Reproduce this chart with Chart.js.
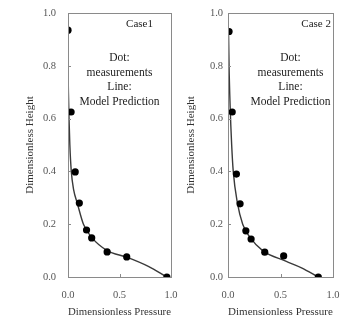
<!DOCTYPE html>
<html><head><meta charset="utf-8">
<script src="https://cdn.jsdelivr.net/npm/chart.js@4.4.0/dist/chart.umd.min.js"></script>
<style>
html,body{margin:0;padding:0;background:#fff;}
#w{position:relative;width:343px;height:320px;overflow:hidden;}
.c{position:absolute;top:0;height:320px;}
</style></head><body>
<div id="w">
<div class="c" id="d1" style="left:0;width:188px"><canvas id="c1"></canvas></div>
<div class="c" id="d2" style="left:172px;width:171px"><canvas id="c2"></canvas></div>
</div>
<script>
// Case 1 measurements
const case1MeasX = [0.0, 0.03, 0.07, 0.11, 0.18, 0.23, 0.38, 0.57, 0.96];
const case1MeasY = [0.935, 0.625, 0.398, 0.28, 0.178, 0.148, 0.095, 0.076, 0.0];
// Case 1 model prediction
const case1ModelX = [0.0, 0.004, 0.01, 0.018, 0.032, 0.055, 0.09, 0.15, 0.23, 0.38, 0.57, 0.78, 0.96];
const case1ModelY = [0.8, 0.7, 0.6, 0.5, 0.4, 0.33, 0.28, 0.2, 0.15, 0.1, 0.075, 0.04, 0.0];
// Case 2 measurements
const case2MeasX = [0.01, 0.04, 0.08, 0.115, 0.17, 0.22, 0.35, 0.53, 0.86];
const case2MeasY = [0.93, 0.625, 0.39, 0.277, 0.175, 0.144, 0.094, 0.08, 0.0];
// Case 2 model prediction
const case2ModelX = [0.005, 0.01, 0.02, 0.035, 0.05, 0.09, 0.14, 0.21, 0.33, 0.55, 0.7, 0.86];
const case2ModelY = [0.93, 0.8, 0.65, 0.5, 0.4, 0.28, 0.2, 0.15, 0.1, 0.06, 0.035, 0.0];

const xTicks = [0.0, 0.5, 1.0];
const yTicks = [0.0, 0.2, 0.4, 0.6, 0.8, 1.0];
const caseLabels = ["Case1", "Case 2"];
const noteLines = ["Dot:", "measurements", "Line:", "Model Prediction"];
const xTitle = "Dimensionless Pressure";
const yTitle = "Dimensionless Height";

const SERIF = "'Liberation Serif','Times New Roman',serif";

function pts(xs, ys){ return xs.map((x,i)=>({x:x,y:ys[i]})); }

const framePlugin = {
  id:'frame',
  afterDraw(chart, args, opts){
    const ctx = chart.ctx, a = chart.chartArea;
    const xs = chart.scales.x, ys = chart.scales.y;
    ctx.save();
    ctx.strokeStyle = '#8a8a8a';
    ctx.lineWidth = 1;
    ctx.strokeRect(Math.round(a.left)+0.5, Math.round(a.top)+0.5, Math.round(a.right-a.left), Math.round(a.bottom-a.top));
    ctx.beginPath();
    yTicks.forEach(v=>{
      const py = Math.round(ys.getPixelForValue(v))+0.5;
      ctx.moveTo(a.left, py); ctx.lineTo(a.left+3, py);
    });
    xTicks.forEach(v=>{
      const px = Math.round(xs.getPixelForValue(v))+0.5;
      ctx.moveTo(px, a.bottom); ctx.lineTo(px, a.bottom-3);
    });
    ctx.stroke();
    // texts
    ctx.fillStyle = '#222';
    ctx.font = '11px ' + SERIF;
    ctx.textAlign = 'right';
    ctx.textBaseline = 'middle';
    ctx.fillText(opts.label, a.right - opts.labelRight, a.top + 11);
    ctx.textAlign = 'center';
    ctx.font = '11.5px ' + SERIF;
    const cx = (a.left + a.right)/2 + opts.noteDx;
    noteLines.forEach((t,i)=>{
      ctx.fillText(t, cx, a.top + 45 + i*14.7);
    });
    ctx.restore();
  }
};

function makeChart(id, measX, measY, modelX, modelY, cfg){
  return new Chart(document.getElementById(id), {
    type:'scatter',
    data:{datasets:[
      {data: pts(modelX, modelY), showLine:true, borderColor:'#3a3a3a', borderWidth:1.4, pointRadius:0, cubicInterpolationMode:'monotone', fill:false, order:2},
      {data: pts(measX, measY), pointRadius:3.6, pointBackgroundColor:'#000', pointBorderColor:'#000', pointBorderWidth:0, showLine:false, order:1}
    ]},
    options:{
      responsive:true, maintainAspectRatio:false, animation:false,
      layout:{padding:{left:0, top:13, right:cfg.padRight, bottom:0}},
      plugins:{legend:{display:false}, tooltip:{enabled:false}, frame:{label:cfg.label, labelRight:cfg.labelRight, noteDx:cfg.noteDx}},
      scales:{
        x:{type:'linear', min:0, max:1,
          afterFit(s){ s.height = 43; s.paddingLeft = 0; s.paddingRight = 0; },
          afterBuildTicks(s){ s.ticks = xTicks.map(v=>({value:v})); },
          grid:{display:false, drawTicks:false},
          border:{display:false},
          ticks:{padding:12, color:'#555', font:{family:SERIF, size:10.5}, callback:v=>Number(v).toFixed(1), maxRotation:0, autoSkip:false},
          title:{display:true, text:xTitle, color:'#333', font:{family:SERIF, size:11}, padding:{top:0, bottom:1}}
        },
        y:{type:'linear', min:0, max:1,
          afterFit(s){ s.width = cfg.yWidth; s.paddingTop = 0; s.paddingBottom = 0; },
          afterBuildTicks(s){ s.ticks = yTicks.map(v=>({value:v})); },
          grid:{display:false, drawTicks:false},
          border:{display:false},
          ticks:{padding:cfg.tickPad, color:'#555', font:{family:SERIF, size:10.5}, callback:v=>Number(v).toFixed(1), autoSkip:false},
          title:{display:true, text:yTitle, color:'#333', font:{family:SERIF, size:11}, padding:{top:cfg.titlePad, bottom:0}}
        }
      }
    },
    plugins:[framePlugin]
  });
}

makeChart('c1', case1MeasX, case1MeasY, case1ModelX, case1ModelY,
  {padRight:17, yWidth:68, tickPad:12, titlePad:23.4, label:caseLabels[0], labelRight:18, noteDx:0});
makeChart('c2', case2MeasX, case2MeasY, case2ModelX, case2ModelY,
  {padRight:10, yWidth:56, tickPad:5, titlePad:12.4, label:caseLabels[1], labelRight:2, noteDx:10});
</script>
</body></html>
